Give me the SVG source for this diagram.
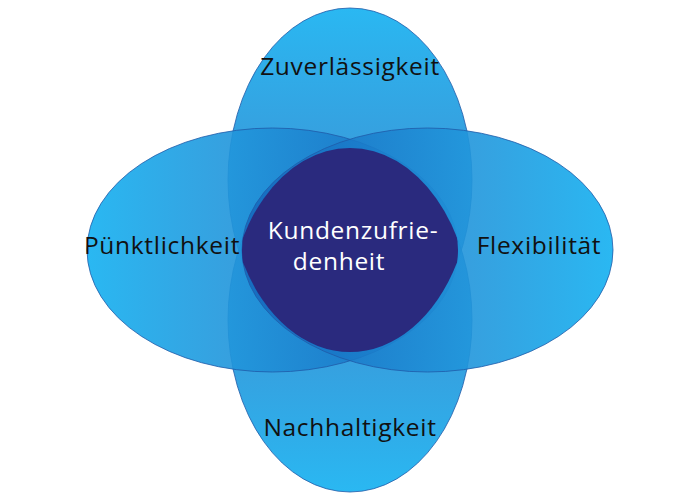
<svg xmlns="http://www.w3.org/2000/svg" width="700" height="500" viewBox="0 0 700 500">
<style>
.e{stroke:#1f5aa8;stroke-width:0.8}
.lbl{font-family:"Open Sans",Inter,sans-serif;font-size:24.5px;letter-spacing:0.7px;fill:#111;text-anchor:middle}
.ctr{font-family:"Open Sans",Inter,sans-serif;font-size:24.5px;letter-spacing:0.7px;fill:#fff;text-anchor:middle}
</style>
<defs>
<linearGradient id="gT" x1="0" y1="0" x2="0" y2="1"><stop offset="0" stop-color="#2ab8f2"/><stop offset="1" stop-color="#1260b8" stop-opacity="0.75"/></linearGradient>
<linearGradient id="gB" x1="0" y1="1" x2="0" y2="0"><stop offset="0" stop-color="#2ab8f2"/><stop offset="1" stop-color="#1260b8" stop-opacity="0.75"/></linearGradient>
<linearGradient id="gL" x1="0" y1="0" x2="1" y2="0"><stop offset="0" stop-color="#2ab8f2"/><stop offset="1" stop-color="#1260b8" stop-opacity="0.75"/></linearGradient>
<linearGradient id="gR" x1="1" y1="0" x2="0" y2="0"><stop offset="0" stop-color="#2ab8f2"/><stop offset="1" stop-color="#1260b8" stop-opacity="0.75"/></linearGradient>
<clipPath id="cT"><ellipse cx="350" cy="180" rx="122" ry="172"/></clipPath>
<clipPath id="cB"><ellipse cx="350" cy="320" rx="122" ry="172"/></clipPath>
<clipPath id="cL" clip-path="url(#cT)"><ellipse cx="272.5" cy="250" rx="185.5" ry="122"/></clipPath>
<clipPath id="cR" clip-path="url(#cL)"><ellipse cx="427.5" cy="250" rx="185.5" ry="122"/></clipPath>
</defs>
<g id="top"><ellipse class="e" cx="350" cy="180" rx="122" ry="172" fill="url(#gT)"/></g>
<g id="bottom"><ellipse class="e" cx="350" cy="320" rx="122" ry="172" fill="url(#gB)"/></g>
<g id="left"><ellipse class="e" cx="272.5" cy="250" rx="185.5" ry="122" fill="url(#gL)"/></g>
<g id="right"><ellipse class="e" cx="427.5" cy="250" rx="185.5" ry="122" fill="url(#gR)"/></g>
<g id="center">
<g clip-path="url(#cB)"><g clip-path="url(#cR)"><rect x="200" y="100" width="300" height="300" fill="#2a2a7e"/></g></g>
<text class="ctr" x="353" y="239">Kundenzufrie-</text>
<text class="ctr" x="339" y="270">denheit</text>
</g>
<g id="labels">
<text class="lbl" x="350" y="75">Zuverlässigkeit</text>
<text class="lbl" x="162" y="254">Pünktlichkeit</text>
<text class="lbl" x="539" y="254">Flexibilität</text>
<text class="lbl" x="350" y="436">Nachhaltigkeit</text>
</g>
<g id="connectors"/>
</svg>
